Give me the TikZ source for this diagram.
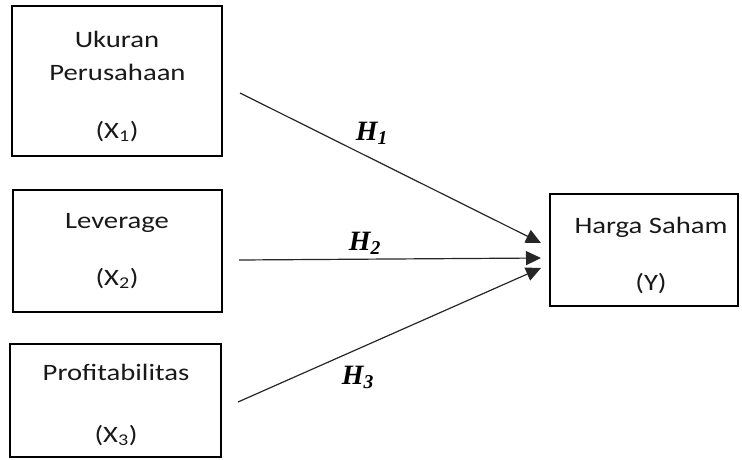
\documentclass[tikz,border=0pt]{standalone}
\usepackage{fontspec}
\setmainfont{Carlito}[FakeStretch=1.22]
\newfontfamily\hfont{Liberation Serif}
\usetikzlibrary{arrows.meta,calc}
\begin{document}
\begin{tikzpicture}[x=1pt,y=-1pt,
  box/.style={draw=black,line width=2.6pt,minimum width=#1,inner sep=0pt,fill=white},
  lbl/.style={font=\fontsize{23.5}{27}\selectfont,text=black!90,inner sep=0pt,anchor=base},
  hl/.style={font=\hfont\fontsize{28}{32}\selectfont\bfseries\itshape,inner sep=0pt,anchor=base},
  arr/.style={line width=1.2pt,draw=black!85,-{Triangle[length=15pt,width=14pt]}}]
\useasboundingbox (0,0) rectangle (742,459);
% boxes
\node[box=210pt,minimum height=150pt] (x1) at (117,81) {};
\node[box=209pt,minimum height=122pt] (x2) at (117.5,251) {};
\node[box=211pt,minimum height=113pt] (x3) at (115.5,400.5) {};
\node[box=188pt,minimum height=112pt] (y) at (644,250) {};
% texts
\node[lbl] (t1a) at (117,47) {Ukuran};
\node[lbl] (t1b) at (117.5,80) {Perusahaan};
\node[lbl] (t1c) at (117,138) {(X\textsubscript{1})};
\node[lbl] (t2a) at (117,228) {Leverage};
\node[lbl] (t2b) at (117,285) {(X\textsubscript{2})};
\node[lbl] (t3a) at (116,380) {Profitabilitas};
\node[lbl] (t3b) at (116,442) {(X\textsubscript{3})};
\node[lbl] (tya) at (651,233) {Harga Saham};
\node[lbl] (tyb) at (651,290) {(Y)};
% connector endpoints
\coordinate (s1) at (240,93);
\coordinate (s2) at (239,260);
\coordinate (s3) at (238,402);
\coordinate (e1) at (541,243);
\coordinate (e2) at (541,258);
\coordinate (e3) at (541,268);
\draw[arr] (s1) -- (e1);
\draw[arr] (s2) -- (e2);
\draw[arr] (s3) -- (e3);
% hypothesis labels
\node[hl] (h1) at (372,140) {H\textsubscript{1}};
\node[hl] (h2) at (365,250) {H\textsubscript{2}};
\node[hl] (h3) at (358,384) {H\textsubscript{3}};
\end{tikzpicture}
\end{document}
